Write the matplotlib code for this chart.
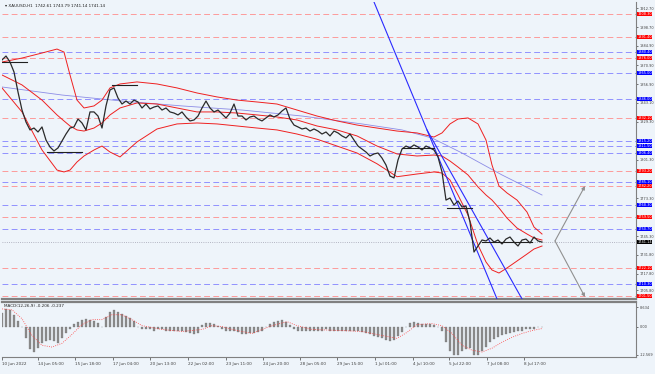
import numpy as np
import matplotlib
matplotlib.use("Agg")
import matplotlib.pyplot as plt
import matplotlib.transforms as mtransforms

# XAUUSD H1 (one sample every 4 bars)
bar_x = list(range(0, 541, 4))
closes = [
    1874.6, 1877.5, 1873.1, 1865.8, 1851.1, 1837.9, 1829.1, 1823.3, 1824.7, 1821.8,
    1825.5, 1815.9, 1810.8, 1807.9, 1810.1, 1815.2, 1820.3, 1824.7, 1825.5, 1831.3,
    1828.4, 1823.3, 1836.5, 1836.5, 1833.5, 1824.7, 1840.9, 1852.6, 1854.1, 1846.7,
    1842.3, 1844.5, 1842.3, 1845.2, 1843.8, 1839.4, 1842.3, 1838.7, 1840.1, 1840.9,
    1837.9, 1839.4, 1836.5, 1835.7, 1834.3, 1836.5, 1832.8, 1829.9, 1830.6, 1833.5,
    1839.4, 1844.5, 1839.4, 1836.5, 1837.9, 1835.0, 1832.1, 1835.7, 1842.3, 1833.5,
    1833.5, 1830.6, 1832.8, 1833.5, 1831.3, 1829.9, 1832.1, 1834.3, 1832.8, 1834.3,
    1837.2, 1839.4, 1831.3, 1826.9, 1825.5, 1824.0, 1824.7, 1822.5, 1824.0, 1822.5,
    1820.3, 1821.8, 1818.9, 1822.5, 1821.1, 1818.9, 1817.4, 1820.3, 1815.9, 1811.5,
    1809.3, 1807.1, 1804.2, 1805.7, 1806.4, 1802.7, 1797.6, 1789.5, 1788.1, 1801.3,
    1809.3, 1811.5, 1810.1, 1812.3, 1810.8, 1808.6, 1811.5, 1810.1, 1808.6, 1803.5,
    1792.5, 1771.9, 1773.4, 1768.3, 1771.2, 1766.8, 1767.5, 1755.8, 1733.8, 1738.2,
    1742.6, 1741.9, 1744.1, 1741.1, 1742.6, 1739.7, 1743.3, 1744.8, 1741.1, 1738.2,
    1742.6, 1743.3, 1740.4, 1744.8, 1741.9, 1741.1,
]

# bollinger bands
band_x = [0, 20, 40, 55, 62, 68, 75, 82, 92, 100, 108, 118, 135, 155, 175, 195, 215, 235, 255, 275,
          295, 315, 335, 355, 375, 395, 415, 432, 440, 448, 456, 466, 476, 484, 490, 497, 505, 515, 525, 532, 540]
bb_upper = [1873.1, 1876.0, 1879.7, 1882.6, 1880.4, 1863.6, 1845.2, 1839.4, 1840.9, 1845.2,
            1854.1, 1857.0, 1858.5, 1857.0, 1854.1, 1850.4, 1847.5, 1845.2, 1843.8, 1842.3,
            1837.9, 1833.5, 1829.9, 1826.9, 1824.7, 1822.5, 1821.1, 1818.1, 1821.1, 1827.7,
            1831.3, 1832.1, 1827.7, 1815.9, 1797.6, 1782.2, 1777.1, 1771.9, 1763.1, 1752.1, 1747.0]
bb_mid = [1863.6, 1856.3, 1845.2, 1834.3, 1829.9, 1826.2, 1823.3, 1822.5, 1824.7, 1828.4,
          1834.3, 1839.4, 1843.1, 1842.3, 1839.4, 1836.5, 1836.5, 1835.7, 1834.3, 1832.8,
          1830.6, 1826.2, 1823.3, 1818.9, 1811.5, 1805.7, 1804.2, 1804.9, 1804.2, 1800.5,
          1796.1, 1790.3, 1781.5, 1775.6, 1771.9, 1766.1, 1758.7, 1751.4, 1747.0, 1744.1, 1742.6]
bb_lower = [1854.1, 1836.5, 1808.6, 1793.9, 1792.5, 1793.9, 1799.8, 1804.2, 1808.6, 1811.5,
            1807.1, 1803.5, 1814.5, 1824.0, 1827.7, 1828.4, 1827.7, 1826.2, 1824.7, 1823.3,
            1820.3, 1816.5, 1811.5, 1806.4, 1798.5, 1789.0, 1791.0, 1792.5, 1791.7, 1786.6,
            1775.6, 1760.9, 1738.9, 1726.5, 1720.6, 1718.4, 1722.1, 1727.2, 1732.3, 1736.0, 1738.2]

# slow moving average
ma_x = [0, 60, 120, 180, 240, 300, 360, 400, 430, 460, 500, 540]
ma_vals = [1854.8, 1848.9, 1844.5, 1840.9, 1837.9, 1833.5, 1827.7, 1823.3, 1817.4, 1806.4, 1790.3, 1775.6]

# horizontal levels
red_levels = [1908.3, 1891.4, 1876.0, 1832.1, 1793.2, 1782.2, 1759.5, 1722.1, 1701.5]
blue_levels = [1880.4, 1865.0, 1846.0, 1815.2, 1811.5, 1806.4, 1785.1, 1768.3, 1750.7, 1710.3]
last_price = 1741.14

# short horizontal pivot segments: (start bar, end bar, price)
pivots = [(0, 25, 1873.1), (45, 80, 1807.1), (110, 135, 1856.2),
          (400, 432, 1810.1), (445, 470, 1766.1), (480, 530, 1741.1)]

# channel lines and projection arrows
trend_a = ([372, 495], [1917.1, 1699.4])
trend_b = ([425, 520], [1823.3, 1699.4])
proj_up = ((553, 1741.9), (583, 1782.2))
proj_down = ((553, 1741.9), (583, 1700.8))

price_ticks = [1912.70, 1898.70, 1884.90, 1870.90, 1856.90, 1843.10, 1829.30,
               1801.30, 1773.30, 1745.30, 1731.80, 1717.80, 1705.80]

# MACD histogram (same sample bars as closes) and signal
macd_hist = [
    6.2, 7.9, 7.5, 5.3, 2.6, -0.4, -5.3, -10.1, -11.4, -9.7,
    -7.5, -6.6, -6.2, -6.6, -7.5, -5.3, -3.1, -1.3, 1.3, 2.2,
    3.1, 3.5, 3.1, 2.6, 1.8, 0.0, 4.4, 6.6, 7.5, 6.6,
    5.7, 4.8, 4.0, 2.6, -0.4, -1.3, -1.3, -1.3, -1.8, -1.3,
    -1.3, -1.8, -1.8, -2.2, -2.2, -2.2, -2.6, -3.1, -3.5, -3.1,
    0.9, 1.8, 1.8, 1.3, 0.4, -0.9, -1.8, -2.2, -1.8, -2.6,
    -3.5, -3.5, -3.1, -3.1, -2.6, -1.8, -0.4, 1.3, 2.2, 2.6,
    3.1, 2.2, 0.9, -0.9, -1.8, -2.2, -2.2, -1.8, -2.2, -1.8,
    -1.8, -1.3, -1.8, -1.8, -1.8, -2.2, -2.2, -1.8, -2.2, -2.2,
    -2.6, -3.1, -3.5, -4.4, -4.8, -5.3, -6.2, -6.6, -6.2, -4.4,
    -2.6, -0.4, 1.8, 2.2, 1.8, 1.3, 1.3, 1.3, 0.9, 0.0,
    -1.8, -7.0, -11.0, -12.8, -12.8, -11.0, -10.1, -9.7, -12.8, -12.8,
    -11.0, -9.2, -7.0, -5.7, -4.8, -4.0, -3.5, -3.1, -2.6, -2.2,
    -1.8, -1.3, -0.9, -0.9, -0.4, -0.4,
]
sig_x = [0, 10, 20, 30, 40, 50, 60, 70, 80, 90, 100, 110, 120, 130, 140, 160, 180, 200, 210, 220,
         230, 250, 270, 285, 295, 310, 340, 360, 380, 395, 405, 415, 430, 440, 450, 460, 470, 480, 490, 500,
         510, 520, 530, 540]
macd_signal = [7.9, 7.5, 3.5, -4.0, -8.4, -9.2, -7.5, -3.5, 0.9, 3.1,
               3.1, 5.3, 5.3, 3.1, 0.4, -1.3, -2.2, -1.3, 0.4, 0.0,
               -1.3, -3.1, 0.4, 2.2, 0.4, -1.3, -1.8, -2.2, -4.0, -5.3,
               -2.6, 0.9, 1.3, 0.4, -3.1, -8.4, -10.6, -11.4, -9.7, -7.0,
               -4.8, -3.1, -1.8, -0.9]
macd_ticks = [8.634, 0.0, -12.569]
macd_tick_labels = ["8.634", "0.00", "-12.569"]

time_ticks = [0, 36, 73, 111, 148, 186, 224, 261, 298, 335, 373, 411, 447, 485, 522]
time_labels = ["10 Jun 2022", "14 Jun 05:00", "15 Jun 18:00", "17 Jun 04:00", "20 Jun 13:00",
               "22 Jun 02:00", "23 Jun 11:00", "24 Jun 20:00", "28 Jun 05:00", "29 Jun 15:00",
               "1 Jul 01:00", "4 Jul 10:00", "5 Jul 22:00", "7 Jul 08:00", "8 Jul 17:00"]

BG = '#eef4fa'
GREY = '#808080'
FS = 3
FS_R = 2.5
W, H = 655, 374

fig = plt.figure(figsize=(W / 100, H / 100), dpi=100, facecolor=BG)
ax = fig.add_axes([2 / W, 1 - 299 / H, 634 / W, 297 / H], facecolor=BG)
ax2 = fig.add_axes([2 / W, 1 - 357 / H, 634 / W, 55 / H], facecolor=BG)

# ---- price panel ----
for lv in red_levels:
    ax.axhline(lv, color='#ff8c8c', lw=0.6, dashes=(7, 4), zorder=1)
for lv in blue_levels:
    ax.axhline(lv, color='#8282ff', lw=0.6, dashes=(7, 4), zorder=1)
ax.axhline(last_price, color='#a0a0b0', lw=0.6, ls=':', zorder=1)

ax.plot(ma_x, ma_vals, color='#8c8ce6', lw=0.6, zorder=2)
ax.plot(band_x, bb_upper, color='#ee2020', lw=0.7, zorder=3)
ax.plot(band_x, bb_mid, color='#ee2020', lw=0.7, zorder=3)
ax.plot(band_x, bb_lower, color='#ee2020', lw=0.7, zorder=3)

ax.plot(bar_x, closes, color='#2a2a2a', lw=0.9, zorder=4)
for x0, x1, p in pivots:
    ax.plot([x0, x1], [p, p], color='#202020', lw=0.8, zorder=4)

ax.plot(trend_a[0], trend_a[1], color='#2a2aff', lw=0.8, zorder=3)
ax.plot(trend_b[0], trend_b[1], color='#2a2aff', lw=0.8, zorder=3)
for (xa, ya), (xb, yb) in [proj_up, proj_down]:
    ax.annotate('', xy=(xb, yb), xytext=(xa, ya),
                arrowprops=dict(arrowstyle='-|>', color='#909090', lw=0.8,
                                mutation_scale=5, shrinkA=0, shrinkB=0), zorder=3)

ax.set_xlim(0, 634)
ax.set_ylim(1699.35, 1917.1)
ax.yaxis.tick_right()
ax.set_yticks(price_ticks)
ax.set_yticklabels(['%.2f' % t for t in price_ticks])
ax.tick_params(axis='y', labelsize=FS_R, length=1.5, pad=1, colors='#404040', width=0.5)
ax.set_xticks([])
for s in ['top', 'left']:
    ax.spines[s].set_visible(False)
ax.spines['right'].set_color(GREY)
ax.spines['bottom'].set_color(GREY)
ax.spines['bottom'].set_linewidth(1.6)

trans = mtransforms.blended_transform_factory(ax.transAxes, ax.transData)
for lv in red_levels:
    ax.text(1.002, lv, '%.2f' % lv, transform=trans, fontsize=FS_R, color='white', ha='left',
            va='center', bbox=dict(boxstyle='square,pad=0.12', fc='#ff0000', ec='none'), zorder=6)
for lv in blue_levels:
    ax.text(1.002, lv, '%.2f' % lv, transform=trans, fontsize=FS_R, color='white', ha='left',
            va='center', bbox=dict(boxstyle='square,pad=0.12', fc='#0000ff', ec='none'), zorder=6)
ax.text(1.002, last_price, '%.2f' % last_price, transform=trans, fontsize=FS_R, color='white',
        ha='left', va='center', bbox=dict(boxstyle='square,pad=0.12', fc='#000000', ec='none'), zorder=7)

ax.text(0.004, 0.993, '\u25be XAUUSD,H1  1742.61 1743.79 1741.14 1741.14', transform=ax.transAxes,
        fontsize=FS, color='#202020', ha='left', va='top')

# ---- MACD panel ----
ax2.bar(bar_x, macd_hist, width=2.2, color='#8c8c8c', edgecolor='#707070', linewidth=0.2)
ax2.plot(sig_x, macd_signal, color='#ff4040', lw=0.6, ls=':')
ax2.set_xlim(0, 634)
ax2.set_ylim(-13.64, 11.0)
ax2.yaxis.tick_right()
ax2.set_yticks(macd_ticks)
ax2.set_yticklabels(macd_tick_labels)
ax2.tick_params(axis='y', labelsize=FS_R, length=1.5, pad=1, colors='#404040', width=0.5)
ax2.set_xticks(time_ticks)
ax2.set_xticklabels(time_labels, ha='left')
ax2.tick_params(axis='x', labelsize=FS, length=2, pad=1.5, colors='#404040', width=0.5)
ax2.spines['left'].set_visible(False)
ax2.spines['top'].set_color(GREY)
ax2.spines['top'].set_linewidth(1.6)
ax2.spines['right'].set_color(GREY)
ax2.spines['bottom'].set_color(GREY)
ax2.text(0.003, 0.97, 'MACD(12,26,9) -0.206 -0.237', transform=ax2.transAxes,
         fontsize=FS, color='#202020', ha='left', va='top')

fig.savefig('out.png', dpi=100, facecolor=BG)
